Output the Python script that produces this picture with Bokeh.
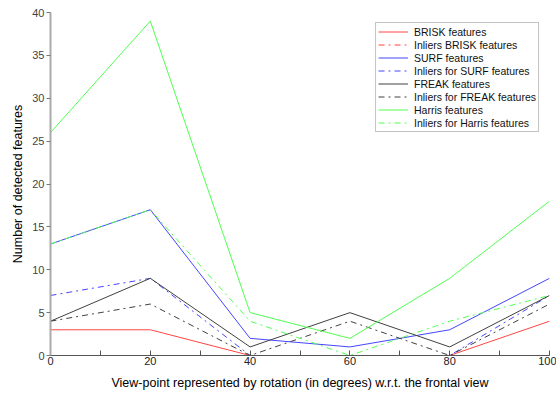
from bokeh.plotting import figure
from bokeh.models import FixedTicker, Range1d, Legend, LegendItem
from bokeh.embed import file_html
from bokeh.resources import INLINE

x = [0, 20, 40, 60, 80, 100]
brisk = [3, 3, 0, 0, 0, 4]
brisk_in = [0, 0, 0, 0, 0, 0]
surf = [13, 17, 2, 1, 3, 9]
surf_in = [7, 9, 0, 0, 0, 7]
freak = [4, 9, 1, 5, 1, 7]
freak_in = [4, 6, 0, 4, 0, 6]
harris = [26, 39, 5, 2, 9, 18]
harris_in = [13, 17, 4, 0, 4, 7]

x_major = [0, 20, 40, 60, 80, 100]
x_minor = [10, 30, 50, 70, 90]
y_ticks = [0, 5, 10, 15, 20, 25, 30, 35, 40]

FONT = "Liberation Sans"

p = figure(width=556, height=397, output_backend="svg", toolbar_location=None,
           x_range=Range1d(0, 100), y_range=Range1d(0, 40),
           min_border_left=50, min_border_right=7, min_border_top=12, min_border_bottom=42)
p.outline_line_color = None
p.grid.visible = False
p.background_fill_color = "white"
p.border_fill_color = "white"

RED, BLUE, BLACK, GREEN = "#ff4545", "#4545ff", "#404040", "#50ff50"

series = [
    ("BRISK features", brisk, RED, "solid"),
    ("Inliers BRISK features", brisk_in, RED, "dashdot"),
    ("SURF features", surf, BLUE, "solid"),
    ("Inliers for SURF features", surf_in, BLUE, "dashdot"),
    ("FREAK features", freak, BLACK, "solid"),
    ("Inliers for FREAK features", freak_in, BLACK, "dashdot"),
    ("Harris features", harris, GREEN, "solid"),
    ("Inliers for Harris features", harris_in, GREEN, "dashdot"),
]
items = []
for name, ys, col, dash in series:
    r = p.line(x, ys, line_color=col, line_dash=dash, line_width=1)
    items.append(LegendItem(label=name, renderers=[r]))

legend = Legend(items=items, location="top_right", margin=10,
                label_text_font=FONT, label_text_font_size="10.5px",
                label_text_color="#111111",
                glyph_width=30, glyph_height=13, label_height=13, spacing=0,
                padding=2, label_standoff=6,
                border_line_color="#888888", border_line_width=1,
                background_fill_color="white", background_fill_alpha=1)
p.add_layout(legend)

xa = p.xaxis[0]
xa.ticker = FixedTicker(ticks=x_major, minor_ticks=x_minor)
xa.major_tick_in = 5
xa.major_tick_out = 0
xa.minor_tick_in = 5
xa.minor_tick_out = 0
xa.axis_line_color = "#555555"
xa.major_tick_line_color = "#555555"
xa.minor_tick_line_color = "#555555"
xa.major_label_text_font = FONT
xa.major_label_text_font_size = "11px"
xa.major_label_text_color = "#222222"
xa.major_label_standoff = 1
xa.axis_label = "View-point represented by rotation (in degrees) w.r.t. the frontal view"
xa.axis_label_text_font = FONT
xa.axis_label_text_font_size = "12.5px"
xa.axis_label_text_font_style = "normal"
xa.axis_label_text_color = "#000000"
xa.axis_label_standoff = 8

ya = p.yaxis[0]
ya.ticker = FixedTicker(ticks=y_ticks, minor_ticks=[])
ya.major_tick_in = 0
ya.major_tick_out = 4
ya.axis_line_color = "#aaaaaa"
ya.axis_line_width = 2
ya.major_tick_line_color = "#777777"
ya.major_label_text_font = FONT
ya.major_label_text_font_size = "11px"
ya.major_label_text_color = "#444444"
ya.major_label_standoff = 2
ya.axis_label = "Number of detected features"
ya.axis_label_text_font = FONT
ya.axis_label_text_font_size = "12.5px"
ya.axis_label_text_font_style = "normal"
ya.axis_label_text_color = "#000000"
ya.axis_label_standoff = 4

open("out.html", "w").write(file_html(p, INLINE))
